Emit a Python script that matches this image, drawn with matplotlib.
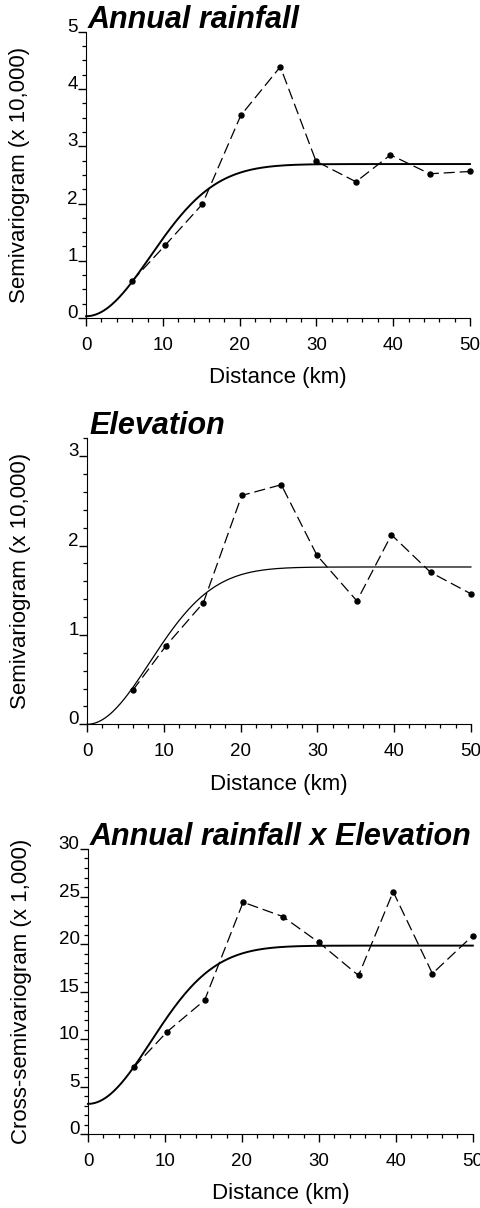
import numpy as np
import matplotlib.pyplot as plt
from matplotlib.ticker import MultipleLocator

plt.rcParams['font.family'] = ['Liberation Sans', 'DejaVu Sans']
plt.rcParams['lines.scale_dashes'] = False

# lag distances (km) of the experimental points
lag = [5.95, 10.3, 15.15, 20.15, 25.3, 29.95, 35.15, 39.65, 44.75, 50.0]

rain = [0.64, 1.27, 1.99, 3.54, 4.39, 2.74, 2.38, 2.85, 2.52, 2.56]
elev = [0.38, 0.88, 1.36, 2.56, 2.68, 1.89, 1.38, 2.12, 1.70, 1.46]
cross = [7.05, 10.8, 14.1, 24.4, 22.9, 20.2, 16.7, 25.5, 16.9, 20.9]

# gaussian model fits: nugget, sill, range
rain_fit = (0.03, 2.69, 20.5)
elev_fit = (0.0, 1.76, 20.0)
cross_fit = (3.2, 19.84, 20.0)

titles = ['Annual rainfall', 'Elevation', 'Annual rainfall x Elevation']
ylabels = ['Semivariogram (x 10,000)', 'Semivariogram (x 10,000)',
           'Cross-semivariogram (x 1,000)']
ylims = [5, 3.2, 30]
ymajor = [1, 1, 5]
yminor = [0.25, 0.2, 1]
fit_lw = [1.4, 0.9, 1.4]


def gauss(h, c0, sill, a):
    return c0 + (sill - c0) * (1 - np.exp(-3 * h ** 2 / a ** 2))


fig = plt.figure(figsize=(4.81, 12.08), dpi=100)
boxes = [[0.179, 0.7368, 0.798, 0.2368],
         [0.181, 0.4004, 0.798, 0.2368],
         [0.183, 0.0610, 0.800, 0.2362]]

h = np.linspace(0, 50, 300)
for i, (vals, fit) in enumerate(zip([rain, elev, cross], [rain_fit, elev_fit, cross_fit])):
    ax = fig.add_axes(boxes[i])
    ax.plot(h, gauss(h, *fit), color='black', lw=fit_lw[i], clip_on=False)
    ax.plot(lag, vals, color='black', lw=0.9, dashes=(8, 3.5),
            marker='o', ms=3.6, clip_on=False)

    ax.set_xlim(0, 50)
    ax.set_ylim(0, ylims[i])
    ax.xaxis.set_major_locator(MultipleLocator(10))
    ax.xaxis.set_minor_locator(MultipleLocator(2))
    ax.yaxis.set_major_locator(MultipleLocator(ymajor[i]))
    ax.yaxis.set_minor_locator(MultipleLocator(yminor[i]))
    ax.spines['top'].set_visible(False)
    ax.spines['right'].set_visible(False)
    ax.tick_params(which='major', direction='out', length=6, width=1,
                   labelsize=13.5)
    ax.tick_params(which='minor', direction='out', length=3, width=0.9)
    ax.tick_params(axis='x', which='major', pad=7.5)
    ax.tick_params(axis='y', which='major', pad=0)
    # y labels sit on their tick rather than centred on it
    for t in ax.get_yticklabels():
        t.set_verticalalignment('baseline')

    ax.set_xlabel('Distance (km)', fontsize=16)
    ax.xaxis.set_label_coords(0.5, -0.172)
    ax.set_ylabel(ylabels[i], fontsize=16)
    ax.yaxis.set_label_coords(-0.145, 0.5)
    ax.text(0.005, 1.015, titles[i], transform=ax.transAxes, fontsize=22,
            fontweight='bold', fontstyle='italic', ha='left', va='baseline')

fig.savefig('out.png', dpi=100)
